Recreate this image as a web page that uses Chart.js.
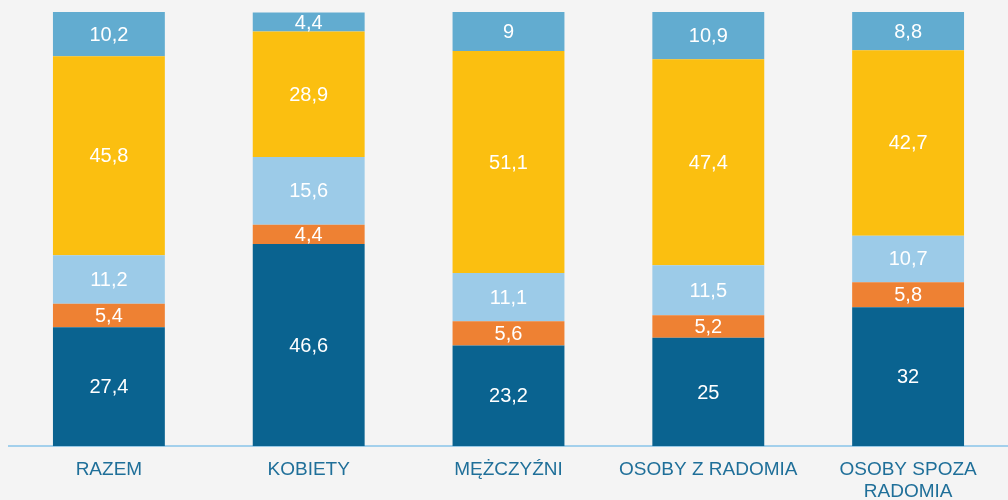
<!DOCTYPE html>
<html>
<head>
<meta charset="utf-8">
<script src="https://cdn.jsdelivr.net/npm/chart.js@4/dist/chart.umd.min.js"></script>
<style>
  html, body { margin: 0; padding: 0; background: #f4f4f4; overflow: hidden; }
  #wrap { width: 1008px; height: 500px; overflow: hidden; }
</style>
</head>
<body>
<div id="wrap"><canvas id="chart" width="1008" height="508"></canvas></div>
<script>
// Data (percent shares, bottom to top)
const categories = ['RAZEM', 'KOBIETY', 'MĘŻCZYŹNI', 'OSOBY Z RADOMIA', ['OSOBY SPOZA', 'RADOMIA']];
const seriesDark = [27.4, 46.6, 23.2, 25, 32];
const seriesOrange = [5.4, 4.4, 5.6, 5.2, 5.8];
const seriesLight = [11.2, 15.6, 11.1, 11.5, 10.7];
const seriesYellow = [45.8, 28.9, 51.1, 47.4, 42.7];
const seriesTop = [10.2, 4.4, 9, 10.9, 8.8];

// rysuje wartości na środku każdego segmentu
const valueLabels = {
    id: 'valueLabels',
    afterDatasetsDraw(chart) {
        const ctx = chart.ctx;
        ctx.save();
        ctx.fillStyle = '#ffffff';
        ctx.font = '20px "Liberation Sans", Arial, sans-serif';
        ctx.textAlign = 'center';
        ctx.textBaseline = 'middle';
        chart.data.datasets.forEach((ds, i) => {
            const meta = chart.getDatasetMeta(i);
            meta.data.forEach((bar, j) => {
                const v = ds.data[j];
                const y = (bar.y + bar.base) / 2;
                ctx.fillText(String(v).replace('.', ','), bar.x, y + 1);
            });
        });
        ctx.restore();
    }
};

const common = { borderWidth: 0, barPercentage: 0.56, categoryPercentage: 1 };

new Chart(document.getElementById('chart'), {
    type: 'bar',
    data: {
        labels: categories,
        datasets: [
            { label: 'a', data: seriesDark, backgroundColor: '#0a6390', ...common },
            { label: 'b', data: seriesOrange, backgroundColor: '#ee8133', ...common },
            { label: 'c', data: seriesLight, backgroundColor: '#9ccbe8', ...common },
            { label: 'd', data: seriesYellow, backgroundColor: '#fbbf10', ...common },
            { label: 'e', data: seriesTop, backgroundColor: '#62acd0', ...common }
        ]
    },
    options: {
        responsive: false,
        animation: false,
        layout: { padding: { left: 9, right: 0, top: 12, bottom: 0 } },
        plugins: {
            legend: { display: false },
            tooltip: { enabled: false }
        },
        scales: {
            x: {
                stacked: true,
                grid: { display: false },
                border: { display: true, color: '#a3d0ec', width: 2 },
                ticks: {
                    color: '#1f6f99',
                    font: { size: 19, family: '"Liberation Sans", Arial, sans-serif', lineHeight: 1.15 },
                    padding: 5,
                    maxRotation: 0,
                    autoSkip: false
                }
            },
            y: {
                stacked: true,
                display: false,
                min: 0,
                max: 100
            }
        }
    },
    plugins: [valueLabels]
});
</script>
</body>
</html>
